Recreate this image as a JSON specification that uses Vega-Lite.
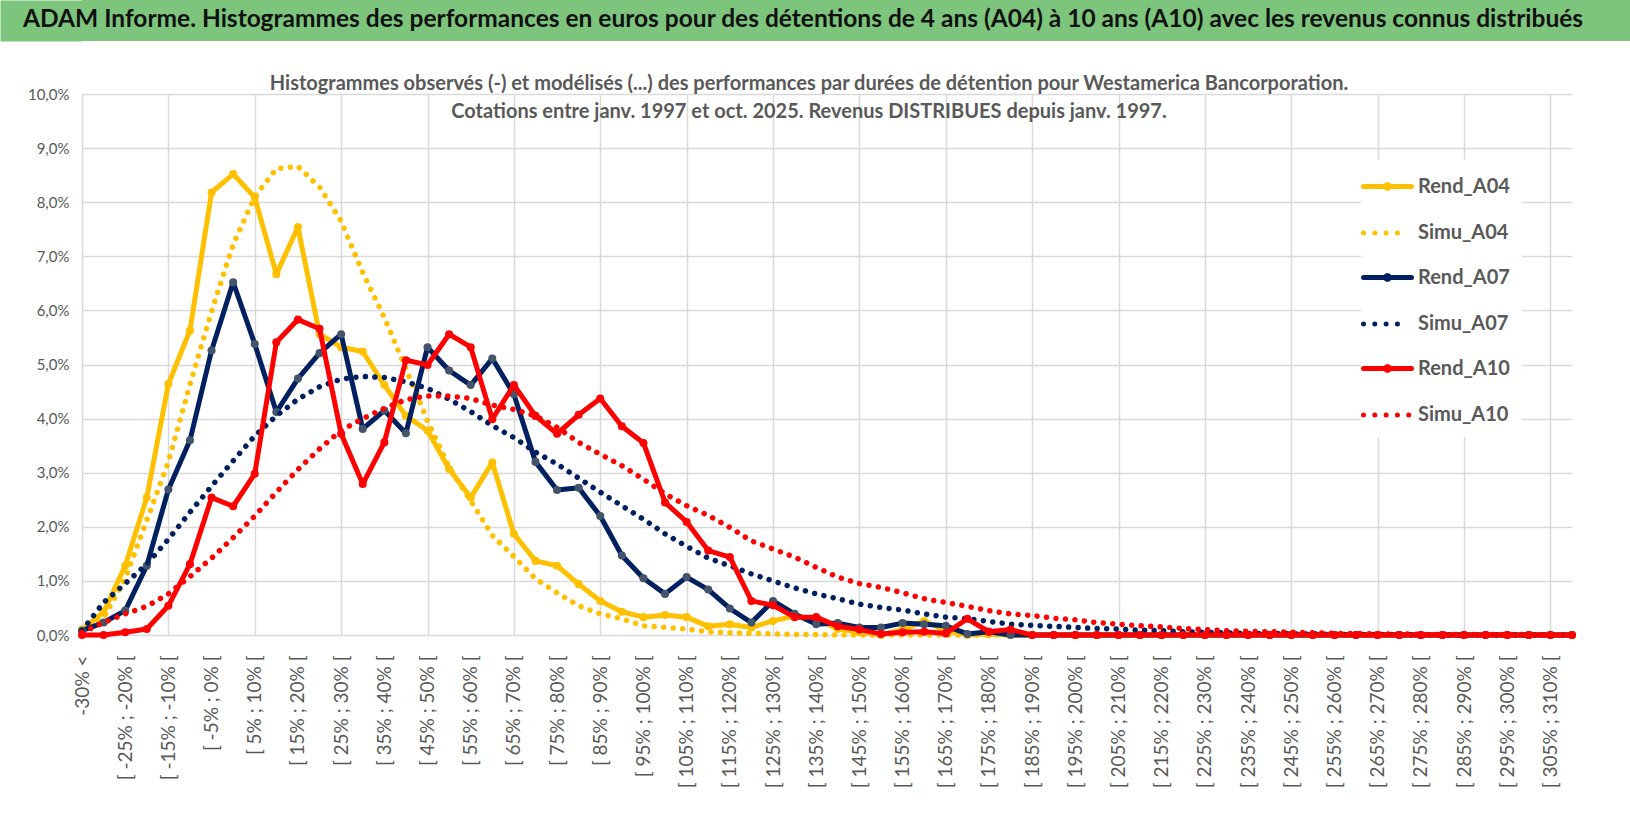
{
  "$schema": "https://vega.github.io/schema/vega-lite/v6.json",
  "padding": 0,
  "background": "white",
  "spacing": 28,
  "config": {"view": {"stroke": null}, "font": "Lato"},
  "datasets": {
    "perf": [
      {"borne": -35, "Rend_A04": 0.10, "Simu_A04": 0.08, "Rend_A07": 0.08, "Simu_A07": 0.08, "Rend_A10": 0.00, "Simu_A10": 0.05},
      {"borne": -30, "Rend_A04": 0.42, "Simu_A04": 0.32, "Rend_A07": 0.23, "Simu_A07": 0.60, "Rend_A10": 0.00, "Simu_A10": 0.23},
      {"borne": -25, "Rend_A04": 1.28, "Simu_A04": 1.04, "Rend_A07": 0.45, "Simu_A07": 0.95, "Rend_A10": 0.05, "Simu_A10": 0.39},
      {"borne": -20, "Rend_A04": 2.54, "Simu_A04": 2.12, "Rend_A07": 1.28, "Simu_A07": 1.31, "Rend_A10": 0.11, "Simu_A10": 0.53},
      {"borne": -15, "Rend_A04": 4.64, "Simu_A04": 3.20, "Rend_A07": 2.69, "Simu_A07": 1.77, "Rend_A10": 0.54, "Simu_A10": 0.76},
      {"borne": -10, "Rend_A04": 5.63, "Simu_A04": 4.63, "Rend_A07": 3.60, "Simu_A07": 2.27, "Rend_A10": 1.31, "Simu_A10": 1.08},
      {"borne": -5, "Rend_A04": 8.18, "Simu_A04": 5.98, "Rend_A07": 5.26, "Simu_A07": 2.75, "Rend_A10": 2.54, "Simu_A10": 1.42},
      {"borne": 0, "Rend_A04": 8.52, "Simu_A04": 7.22, "Rend_A07": 6.52, "Simu_A07": 3.22, "Rend_A10": 2.38, "Simu_A10": 1.80},
      {"borne": 5, "Rend_A04": 8.09, "Simu_A04": 8.10, "Rend_A07": 5.38, "Simu_A07": 3.68, "Rend_A10": 2.98, "Simu_A10": 2.20},
      {"borne": 10, "Rend_A04": 6.67, "Simu_A04": 8.62, "Rend_A07": 4.12, "Simu_A07": 4.05, "Rend_A10": 5.41, "Simu_A10": 2.64},
      {"borne": 15, "Rend_A04": 7.54, "Simu_A04": 8.66, "Rend_A07": 4.74, "Simu_A07": 4.36, "Rend_A10": 5.83, "Simu_A10": 3.06},
      {"borne": 20, "Rend_A04": 5.56, "Simu_A04": 8.28, "Rend_A07": 5.21, "Simu_A07": 4.59, "Rend_A10": 5.66, "Simu_A10": 3.44},
      {"borne": 25, "Rend_A04": 5.32, "Simu_A04": 7.65, "Rend_A07": 5.56, "Simu_A07": 4.73, "Rend_A10": 3.72, "Simu_A10": 3.78},
      {"borne": 30, "Rend_A04": 5.24, "Simu_A04": 6.70, "Rend_A07": 3.81, "Simu_A07": 4.78, "Rend_A10": 2.79, "Simu_A10": 4.00},
      {"borne": 35, "Rend_A04": 4.62, "Simu_A04": 5.87, "Rend_A07": 4.15, "Simu_A07": 4.76, "Rend_A10": 3.56, "Simu_A10": 4.19},
      {"borne": 40, "Rend_A04": 4.05, "Simu_A04": 4.92, "Rend_A07": 3.73, "Simu_A07": 4.68, "Rend_A10": 5.08, "Simu_A10": 4.35},
      {"borne": 45, "Rend_A04": 3.78, "Simu_A04": 3.96, "Rend_A07": 5.32, "Simu_A07": 4.56, "Rend_A10": 4.99, "Simu_A10": 4.42},
      {"borne": 50, "Rend_A04": 3.07, "Simu_A04": 3.10, "Rend_A07": 4.89, "Simu_A07": 4.36, "Rend_A10": 5.56, "Simu_A10": 4.42},
      {"borne": 55, "Rend_A04": 2.54, "Simu_A04": 2.48, "Rend_A07": 4.62, "Simu_A07": 4.13, "Rend_A10": 5.32, "Simu_A10": 4.37},
      {"borne": 60, "Rend_A04": 3.19, "Simu_A04": 1.84, "Rend_A07": 5.11, "Simu_A07": 3.87, "Rend_A10": 3.99, "Simu_A10": 4.25},
      {"borne": 65, "Rend_A04": 1.87, "Simu_A04": 1.45, "Rend_A07": 4.45, "Simu_A07": 3.65, "Rend_A10": 4.62, "Simu_A10": 4.17},
      {"borne": 70, "Rend_A04": 1.37, "Simu_A04": 1.04, "Rend_A07": 3.20, "Simu_A07": 3.38, "Rend_A10": 4.05, "Simu_A10": 4.05},
      {"borne": 75, "Rend_A04": 1.28, "Simu_A04": 0.78, "Rend_A07": 2.68, "Simu_A07": 3.16, "Rend_A10": 3.72, "Simu_A10": 3.84},
      {"borne": 80, "Rend_A04": 0.94, "Simu_A04": 0.54, "Rend_A07": 2.72, "Simu_A07": 2.90, "Rend_A10": 4.07, "Simu_A10": 3.56},
      {"borne": 85, "Rend_A04": 0.63, "Simu_A04": 0.39, "Rend_A07": 2.20, "Simu_A07": 2.64, "Rend_A10": 4.37, "Simu_A10": 3.34},
      {"borne": 90, "Rend_A04": 0.43, "Simu_A04": 0.30, "Rend_A07": 1.47, "Simu_A07": 2.39, "Rend_A10": 3.86, "Simu_A10": 3.13},
      {"borne": 95, "Rend_A04": 0.33, "Simu_A04": 0.17, "Rend_A07": 1.05, "Simu_A07": 2.14, "Rend_A10": 3.55, "Simu_A10": 2.88},
      {"borne": 100, "Rend_A04": 0.37, "Simu_A04": 0.14, "Rend_A07": 0.76, "Simu_A07": 1.87, "Rend_A10": 2.45, "Simu_A10": 2.61},
      {"borne": 105, "Rend_A04": 0.33, "Simu_A04": 0.11, "Rend_A07": 1.07, "Simu_A07": 1.64, "Rend_A10": 2.09, "Simu_A10": 2.39},
      {"borne": 110, "Rend_A04": 0.16, "Simu_A04": 0.06, "Rend_A07": 0.84, "Simu_A07": 1.42, "Rend_A10": 1.56, "Simu_A10": 2.21},
      {"borne": 115, "Rend_A04": 0.20, "Simu_A04": 0.04, "Rend_A07": 0.49, "Simu_A07": 1.28, "Rend_A10": 1.44, "Simu_A10": 1.99},
      {"borne": 120, "Rend_A04": 0.14, "Simu_A04": 0.03, "Rend_A07": 0.23, "Simu_A07": 1.13, "Rend_A10": 0.63, "Simu_A10": 1.74},
      {"borne": 125, "Rend_A04": 0.26, "Simu_A04": 0.02, "Rend_A07": 0.63, "Simu_A07": 1.00, "Rend_A10": 0.55, "Simu_A10": 1.59},
      {"borne": 130, "Rend_A04": 0.35, "Simu_A04": 0.01, "Rend_A07": 0.39, "Simu_A07": 0.87, "Rend_A10": 0.33, "Simu_A10": 1.44},
      {"borne": 135, "Rend_A04": 0.30, "Simu_A04": 0.01, "Rend_A07": 0.20, "Simu_A07": 0.76, "Rend_A10": 0.33, "Simu_A10": 1.25},
      {"borne": 140, "Rend_A04": 0.11, "Simu_A04": 0.00, "Rend_A07": 0.22, "Simu_A07": 0.67, "Rend_A10": 0.16, "Simu_A10": 1.07},
      {"borne": 145, "Rend_A04": 0.05, "Simu_A04": 0.00, "Rend_A07": 0.14, "Simu_A07": 0.57, "Rend_A10": 0.10, "Simu_A10": 0.95},
      {"borne": 150, "Rend_A04": 0.00, "Simu_A04": 0.00, "Rend_A07": 0.14, "Simu_A07": 0.51, "Rend_A10": 0.02, "Simu_A10": 0.88},
      {"borne": 155, "Rend_A04": 0.10, "Simu_A04": 0.00, "Rend_A07": 0.22, "Simu_A07": 0.46, "Rend_A10": 0.05, "Simu_A10": 0.78},
      {"borne": 160, "Rend_A04": 0.26, "Simu_A04": 0.00, "Rend_A07": 0.20, "Simu_A07": 0.39, "Rend_A10": 0.06, "Simu_A10": 0.67},
      {"borne": 165, "Rend_A04": 0.08, "Simu_A04": 0.00, "Rend_A07": 0.17, "Simu_A07": 0.33, "Rend_A10": 0.03, "Simu_A10": 0.60},
      {"borne": 170, "Rend_A04": 0.00, "Simu_A04": 0.00, "Rend_A07": 0.02, "Simu_A07": 0.30, "Rend_A10": 0.30, "Simu_A10": 0.53},
      {"borne": 175, "Rend_A04": 0.02, "Simu_A04": 0.00, "Rend_A07": 0.06, "Simu_A07": 0.25, "Rend_A10": 0.06, "Simu_A10": 0.45},
      {"borne": 180, "Rend_A04": 0.00, "Simu_A04": 0.00, "Rend_A07": 0.00, "Simu_A07": 0.20, "Rend_A10": 0.10, "Simu_A10": 0.39},
      {"borne": 185, "Rend_A04": 0.00, "Simu_A04": 0.00, "Rend_A07": 0.00, "Simu_A07": 0.18, "Rend_A10": 0.00, "Simu_A10": 0.36},
      {"borne": 190, "Rend_A04": 0.00, "Simu_A04": 0.00, "Rend_A07": 0.00, "Simu_A07": 0.16, "Rend_A10": 0.00, "Simu_A10": 0.31},
      {"borne": 195, "Rend_A04": 0.00, "Simu_A04": 0.00, "Rend_A07": 0.00, "Simu_A07": 0.14, "Rend_A10": 0.00, "Simu_A10": 0.28},
      {"borne": 200, "Rend_A04": 0.00, "Simu_A04": 0.00, "Rend_A07": 0.00, "Simu_A07": 0.12, "Rend_A10": 0.00, "Simu_A10": 0.23},
      {"borne": 205, "Rend_A04": 0.00, "Simu_A04": 0.00, "Rend_A07": 0.00, "Simu_A07": 0.11, "Rend_A10": 0.00, "Simu_A10": 0.20},
      {"borne": 210, "Rend_A04": 0.00, "Simu_A04": 0.00, "Rend_A07": 0.00, "Simu_A07": 0.09, "Rend_A10": 0.00, "Simu_A10": 0.17},
      {"borne": 215, "Rend_A04": 0.00, "Simu_A04": 0.00, "Rend_A07": 0.00, "Simu_A07": 0.08, "Rend_A10": 0.00, "Simu_A10": 0.15},
      {"borne": 220, "Rend_A04": 0.00, "Simu_A04": 0.00, "Rend_A07": 0.00, "Simu_A07": 0.06, "Rend_A10": 0.00, "Simu_A10": 0.12},
      {"borne": 225, "Rend_A04": 0.00, "Simu_A04": 0.00, "Rend_A07": 0.00, "Simu_A07": 0.05, "Rend_A10": 0.00, "Simu_A10": 0.10},
      {"borne": 230, "Rend_A04": 0.00, "Simu_A04": 0.00, "Rend_A07": 0.00, "Simu_A07": 0.04, "Rend_A10": 0.00, "Simu_A10": 0.08},
      {"borne": 235, "Rend_A04": 0.00, "Simu_A04": 0.00, "Rend_A07": 0.00, "Simu_A07": 0.03, "Rend_A10": 0.00, "Simu_A10": 0.07},
      {"borne": 240, "Rend_A04": 0.00, "Simu_A04": 0.00, "Rend_A07": 0.00, "Simu_A07": 0.03, "Rend_A10": 0.00, "Simu_A10": 0.06},
      {"borne": 245, "Rend_A04": 0.00, "Simu_A04": 0.00, "Rend_A07": 0.00, "Simu_A07": 0.02, "Rend_A10": 0.00, "Simu_A10": 0.05},
      {"borne": 250, "Rend_A04": 0.00, "Simu_A04": 0.00, "Rend_A07": 0.00, "Simu_A07": 0.02, "Rend_A10": 0.00, "Simu_A10": 0.04},
      {"borne": 255, "Rend_A04": 0.00, "Simu_A04": 0.00, "Rend_A07": 0.00, "Simu_A07": 0.01, "Rend_A10": 0.00, "Simu_A10": 0.03},
      {"borne": 260, "Rend_A04": 0.00, "Simu_A04": 0.00, "Rend_A07": 0.00, "Simu_A07": 0.01, "Rend_A10": 0.00, "Simu_A10": 0.03},
      {"borne": 265, "Rend_A04": 0.00, "Simu_A04": 0.00, "Rend_A07": 0.00, "Simu_A07": 0.01, "Rend_A10": 0.00, "Simu_A10": 0.02},
      {"borne": 270, "Rend_A04": 0.00, "Simu_A04": 0.00, "Rend_A07": 0.00, "Simu_A07": 0.01, "Rend_A10": 0.00, "Simu_A10": 0.02},
      {"borne": 275, "Rend_A04": 0.00, "Simu_A04": 0.00, "Rend_A07": 0.00, "Simu_A07": 0.00, "Rend_A10": 0.00, "Simu_A10": 0.01},
      {"borne": 280, "Rend_A04": 0.00, "Simu_A04": 0.00, "Rend_A07": 0.00, "Simu_A07": 0.00, "Rend_A10": 0.00, "Simu_A10": 0.01},
      {"borne": 285, "Rend_A04": 0.00, "Simu_A04": 0.00, "Rend_A07": 0.00, "Simu_A07": 0.00, "Rend_A10": 0.00, "Simu_A10": 0.01},
      {"borne": 290, "Rend_A04": 0.00, "Simu_A04": 0.00, "Rend_A07": 0.00, "Simu_A07": 0.00, "Rend_A10": 0.00, "Simu_A10": 0.01},
      {"borne": 295, "Rend_A04": 0.00, "Simu_A04": 0.00, "Rend_A07": 0.00, "Simu_A07": 0.00, "Rend_A10": 0.00, "Simu_A10": 0.01},
      {"borne": 300, "Rend_A04": 0.00, "Simu_A04": 0.00, "Rend_A07": 0.00, "Simu_A07": 0.00, "Rend_A10": 0.00, "Simu_A10": 0.01},
      {"borne": 305, "Rend_A04": 0.00, "Simu_A04": 0.00, "Rend_A07": 0.00, "Simu_A07": 0.00, "Rend_A10": 0.00, "Simu_A10": 0.00},
      {"borne": 310, "Rend_A04": 0.00, "Simu_A04": 0.00, "Rend_A07": 0.00, "Simu_A07": 0.00, "Rend_A10": 0.00, "Simu_A10": 0.00}
    ]
  },
  "vconcat": [
    {
      "width": 1548,
      "height": 41,
      "view": {"fill": "#7DC57D", "stroke": null},
      "title": {
        "text": "ADAM Informe. Histogrammes des performances en euros pour des détentions de 4 ans (A04) à 10 ans (A10) avec les revenus connus distribués",
        "anchor": "start",
        "frame": "group",
        "offset": -32,
        "dx": -59,
        "font": "Lato",
        "fontSize": 24.5,
        "fontWeight": "bold",
        "color": "#111111"
      },
      "data": {"values": [{}]},
      "mark": {"type": "text", "text": ""},
      "encoding": {
        "y": {
          "datum": 0,
          "type": "quantitative",
          "scale": {"domain": [0, 1]},
          "axis": {
            "title": null,
            "labels": false,
            "ticks": false,
            "grid": false,
            "domain": true,
            "domainColor": "#7DC57D",
            "domainWidth": 82,
            "domainCap": "butt",
            "offset": 41,
            "minExtent": 0,
            "maxExtent": 0
          }
        }
      }
    },
    {
      "width": 1490,
      "height": 541,
      "title": {
        "text": [
          "Histogrammes observés (-) et modélisés (...) des performances par durées de détention pour Westamerica Bancorporation.",
          "Cotations entre janv. 1997 et oct. 2025.  Revenus DISTRIBUES depuis janv. 1997."
        ],
        "font": "Lato",
        "fontSize": 20,
        "fontWeight": "bold",
        "color": "#595959",
        "lineHeight": 28,
        "offset": -35,
        "anchor": "middle",
        "dx": -18
      },
      "data": {"name": "perf"},
      "transform": [
        {"fold": ["Rend_A04", "Simu_A04", "Rend_A07", "Simu_A07", "Rend_A10", "Simu_A10"], "as": ["serie", "val"]}
      ],
      "encoding": {
        "x": {
          "field": "borne",
          "type": "quantitative",
          "title": null,
          "scale": {"domain": [-35, 310], "nice": false, "zero": false},
          "axis": {
            "values": [-35, -25, -15, -5, 5, 15, 25, 35, 45, 55, 65, 75, 85, 95, 105, 115, 125, 135, 145, 155, 165, 175, 185, 195, 205, 215, 225, 235, 245, 255, 265, 275, 285, 295, 305],
            "labelExpr": "datum.value == -35 ? '-30% <' : '[ ' + datum.value + '% ; ' + (datum.value + 5) + '% ['",
            "labelAngle": -90,
            "labelFont": "Lato",
            "labelFontSize": 19,
            "labelColor": "#595959",
            "labelPadding": 20,
            "labelOverlap": false,
            "labelFlush": false,
            "labelBound": false,
            "ticks": false,
            "domain": false,
            "grid": true,
            "gridColor": "#D9D9D9",
            "gridWidth": 1.5,
            "gridOpacity": {"condition": {"test": "(datum.value + 35) % 20 == 0", "value": 1}, "value": 0}
          }
        },
        "y": {
          "field": "val",
          "type": "quantitative",
          "title": null,
          "scale": {"domain": [0, 10], "nice": false},
          "axis": {
            "values": [0, 1, 2, 3, 4, 5, 6, 7, 8, 9, 10],
            "labelExpr": "replace(format(datum.value, '.1f'), '.', ',') + '%'",
            "labelFont": "Lato",
            "labelFontSize": 15,
            "labelColor": "#595959",
            "labelPadding": 13,
            "ticks": false,
            "domain": false,
            "grid": true,
            "gridColor": "#D9D9D9",
            "gridWidth": 1.5,
            "minExtent": 82,
            "maxExtent": 82
          }
        }
      },
      "layer": [
        {
          "transform": [{"filter": "datum.serie == 'Rend_A04'"}],
          "mark": {"type": "line", "strokeWidth": 5, "strokeJoin": "round"},
          "encoding": {
            "color": {
              "field": "serie",
              "type": "nominal",
              "scale": {
                "domain": ["Rend_A04", "Simu_A04", "Rend_A07", "Simu_A07", "Rend_A10", "Simu_A10"],
                "range": ["#FFC000", "#FFC000", "#002060", "#002060", "#FF0000", "#FF0000"]
              },
              "legend": {
                "title": null,
                "orient": "none",
                "legendX": 1279,
                "legendY": 160,
                "fillColor": "white",
                "padding": 12,
                "symbolSize": 576,
                "symbolStrokeWidth": 5,
                "labelFont": "Lato",
                "labelFontSize": 20,
                "labelFontWeight": "bold",
                "labelColor": "#595959",
                "labelOffset": 16,
                "rowPadding": 19.5,
                "encode": {
                  "symbols": {
                    "update": {
                      "shape": {"signal": "indexof(datum.value, 'Rend') == 0 ? 'M-2,0L2,0M-0.15,0A0.15,0.15,0,1,0,0.15,0A0.15,0.15,0,1,0,-0.15,0Z' : (datum.value == 'Simu_A10' ? 'M-2,0L2,0' : 'M-2,0L1,0')"},
                      "strokeDash": {"signal": "indexof(datum.value, 'Rend') == 0 ? [1, 0] : [0.01, 11.3]"},
                      "strokeCap": {"value": "round"},
                      "strokeWidth": {"value": 5},
                      "fill": {"signal": "indexof(datum.value, 'Rend') == 0 ? scale('color', datum.value) : 'transparent'"}
                    }
                  }
                }
              }
            }
          }
        },
        {
          "transform": [{"filter": "datum.serie == 'Rend_A04'"}],
          "mark": {"type": "circle", "size": 65, "color": "#FFC000", "opacity": 1}
        },
        {
          "transform": [{"filter": "datum.serie == 'Simu_A04'"}],
          "mark": {"type": "line", "strokeWidth": 5.5, "strokeDash": [0.01, 9.5], "strokeCap": "round"},
          "encoding": {"color": {"field": "serie", "type": "nominal"}}
        },
        {
          "transform": [{"filter": "datum.serie == 'Rend_A07'"}],
          "mark": {"type": "line", "strokeWidth": 5, "strokeJoin": "round"},
          "encoding": {"color": {"field": "serie", "type": "nominal"}}
        },
        {
          "transform": [{"filter": "datum.serie == 'Rend_A07'"}],
          "mark": {"type": "circle", "size": 65, "color": "#44546A", "opacity": 1}
        },
        {
          "transform": [{"filter": "datum.serie == 'Simu_A07'"}],
          "mark": {"type": "line", "strokeWidth": 5.5, "strokeDash": [0.01, 9.5], "strokeCap": "round"},
          "encoding": {"color": {"field": "serie", "type": "nominal"}}
        },
        {
          "transform": [{"filter": "datum.serie == 'Rend_A10'"}],
          "mark": {"type": "line", "strokeWidth": 5, "strokeJoin": "round"},
          "encoding": {"color": {"field": "serie", "type": "nominal"}}
        },
        {
          "transform": [{"filter": "datum.serie == 'Rend_A10'"}],
          "mark": {"type": "circle", "size": 65, "color": "#FF0000", "opacity": 1}
        },
        {
          "transform": [{"filter": "datum.serie == 'Simu_A10'"}],
          "mark": {"type": "line", "strokeWidth": 5.5, "strokeDash": [0.01, 9.5], "strokeCap": "round"},
          "encoding": {"color": {"field": "serie", "type": "nominal"}}
        }
      ]
    }
  ]
}
